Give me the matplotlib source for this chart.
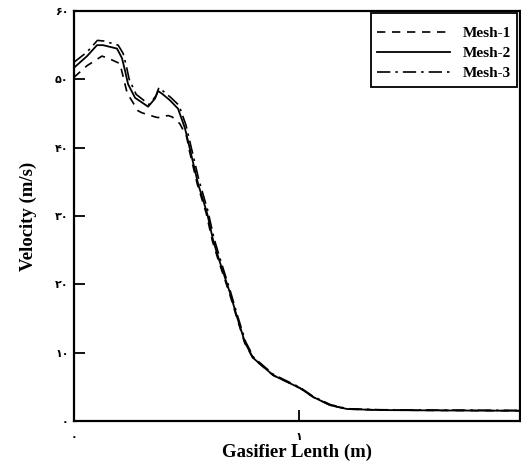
import matplotlib.pyplot as plt

# Mesh-2 (solid)
x2 = [0.0, 0.058, 0.102, 0.129, 0.191, 0.213, 0.227, 0.24, 0.271, 0.329, 0.36, 0.373,
      0.391, 0.427, 0.462, 0.493, 0.516, 0.551, 0.591, 0.618, 0.644, 0.693, 0.724, 0.760,
      0.796, 0.884, 1.004, 1.062, 1.138, 1.213, 1.36, 1.6, 1.98]
y2 = [51.7, 53.4, 55.0, 55.0, 54.5, 53.1, 51.2, 49.3, 47.3, 46.0, 47.2, 48.3,
      47.9, 46.9, 45.7, 42.8, 39.6, 34.7, 30.4, 26.4, 23.6, 18.7, 15.2, 11.4,
      9.2, 6.7, 4.8, 3.5, 2.3, 1.75, 1.6, 1.55, 1.5]

# Mesh-1 (dashed)
x1 = [0.0, 0.058, 0.124, 0.151, 0.204, 0.236, 0.284, 0.302, 0.36, 0.373, 0.418, 0.436,
      0.47, 0.50, 0.512, 0.547, 0.587, 0.614, 0.640, 0.690, 0.722, 0.758, 0.794, 0.884,
      1.004, 1.062, 1.138, 1.213, 1.36, 1.6, 1.98]
y1 = [50.3, 52.0, 53.4, 53.1, 52.3, 48.0, 45.4, 45.1, 44.5, 44.4, 44.7, 44.5,
      43.5, 41.6, 39.6, 34.7, 30.4, 26.4, 23.6, 18.7, 15.2, 11.4, 9.2, 6.7,
      4.8, 3.5, 2.3, 1.75, 1.6, 1.55, 1.5]

# Mesh-3 (dash-dot)
x3 = [0.0, 0.058, 0.104, 0.134, 0.196, 0.218, 0.232, 0.245, 0.276, 0.334, 0.364, 0.377,
      0.395, 0.431, 0.466, 0.497, 0.520, 0.555, 0.594, 0.621, 0.647, 0.695, 0.726, 0.762,
      0.798, 0.886, 1.004, 1.062, 1.138, 1.213, 1.36, 1.6, 1.98]
y3 = [52.5, 54.0, 55.7, 55.6, 55.0, 53.8, 52.0, 50.0, 47.8, 46.3, 47.6, 48.8,
      48.3, 47.3, 46.2, 43.3, 40.1, 35.2, 30.8, 26.8, 23.9, 18.9, 15.4, 11.6,
      9.3, 6.8, 4.9, 3.6, 2.4, 1.8, 1.65, 1.6, 1.55]

yticks = [0, 10, 20, 30, 40, 50, 60]
ytick_labels = ['۰', '۱۰', '۲۰', '۳۰', '۴۰', '۵۰', '۶۰']
xticks = [0, 1]
xtick_labels = ['۰', '۱']

serif = ['Liberation Serif', 'DejaVu Serif']
digits = ['DejaVu Sans', 'Liberation Serif']

fig = plt.figure(figsize=(5.21, 4.63), dpi=100)
ax = fig.add_axes([74 / 521, 1 - 421 / 463, 446 / 521, 410 / 463])

ax.plot(x1, y1, color='black', lw=1.2, linestyle=(0, (5, 4)), label='Mesh-1')
ax.plot(x2, y2, color='black', lw=1.3, linestyle='-', label='Mesh-2')
ax.plot(x3, y3, color='black', lw=1.2, linestyle=(0, (8, 3, 1.5, 3)), label='Mesh-3')

ax.set_xlim(0, 1.98)
ax.set_ylim(0, 60)
ax.set_yticks(yticks)
ax.set_yticklabels(ytick_labels, family=digits, fontsize=8, fontweight='bold')
ax.set_xticks(xticks)
ax.set_xticklabels(xtick_labels, family=digits, fontsize=8, fontweight='bold')
ax.tick_params(axis='both', direction='in', length=8, width=1.3, top=False, right=False)
ax.tick_params(axis='y', pad=4)
ax.tick_params(axis='x', pad=8)

for s in ax.spines.values():
    s.set_linewidth(1.6)

ax.set_xlabel('Gasifier Lenth (m)', family=serif, fontsize=13.5, fontweight='bold', labelpad=1)
ax.set_ylabel('Velocity (m/s)', family=serif, fontsize=13.5, fontweight='bold', labelpad=13)

# tiny blank title only pushes the entries down a little, like the original box
leg = ax.legend(loc='upper right', bbox_to_anchor=(0.993, 0.995), borderaxespad=0,
                prop={'family': serif, 'weight': 'bold', 'size': 11},
                title=' ', title_fontsize=1,
                handlelength=4.8, handletextpad=0.8, labelspacing=0.42, borderpad=0.4,
                fancybox=False, edgecolor='black', framealpha=1)
leg.get_frame().set_linewidth(1.3)

fig.savefig('out.png', dpi=100)
